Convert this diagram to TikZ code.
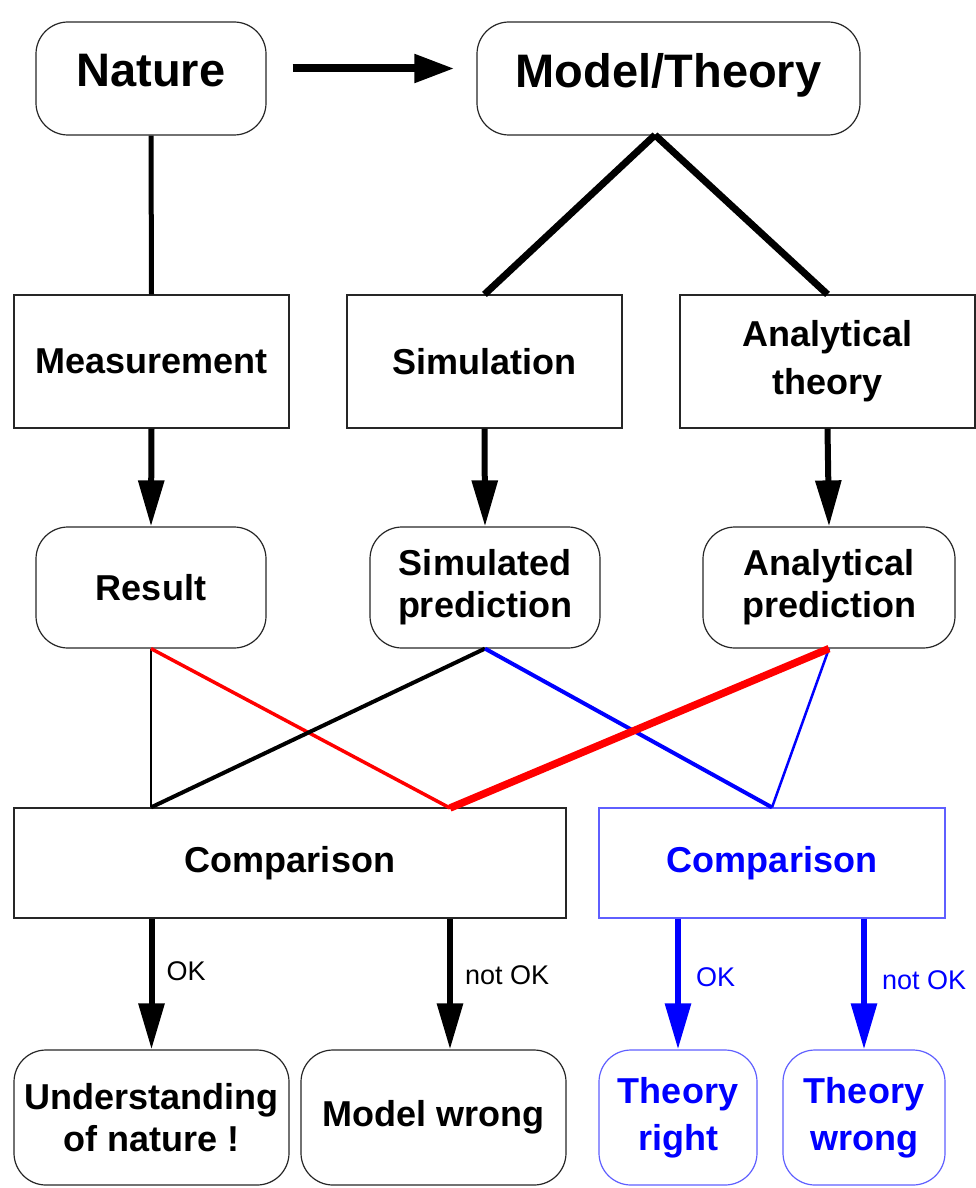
\documentclass[tikz,border=0pt]{standalone}
\usepackage{fontspec}
\setmainfont{Liberation Sans}
\usetikzlibrary{positioning, arrows.meta}
\definecolor{cmpblue}{RGB}{95,95,255}

\begin{document}
\begin{tikzpicture}[
            x=1pt, y=-1pt,
            every node/.style={font=\bfseries\fontsize{36}{42}\selectfont, align=center, inner sep=0pt},
            rbox/.style={draw=black!85, line width=1.2pt, rounded corners=32pt},
            sbox/.style={draw=black!85, line width=1.2pt},
            arr/.style={line width=6pt, -{Triangle[length=46pt, width=25pt]}},
            lbl/.style={font=\fontsize{27}{30}\selectfont, right=12pt}
        ]
        \useasboundingbox (0,0) rectangle (976,1188);

        % Top row
        \node[rbox, minimum width=230pt, minimum height=113pt, text depth=16pt, font=\bfseries\fontsize{47}{50}\selectfont] (nat) at (151,78.5) {Nature};
        \node[rbox, minimum width=383pt, minimum height=113pt, text depth=16pt, font=\bfseries\fontsize{47}{50}\selectfont] (mod) at (668.5,78.5) {Model/Theory};
        \draw[line width=8pt, -{Triangle[length=40pt, width=27pt]}] ([shift={(26,-10)}]nat.east) -- ([shift={(-22,-10)}]mod.west);

        % Methods
        \node[sbox, minimum width=275pt, minimum height=133pt] (mea) at (151.5,361.5) {Measurement};
        \node[sbox, minimum width=275pt, minimum height=133pt] (sim) at (484.5,361.5) {Simulation};
        \node[sbox, minimum width=295pt, minimum height=133pt] (ana) at (827.5,361.5) {Analytical\\[6pt]theory};

        \draw[line width=5pt] (nat.south) -- (mea.north);
        \coordinate (apex) at (655,135);
        \draw[line width=7pt] (apex) -- (sim.north);
        \draw[line width=7pt] (apex) -- (ana.north);

        % Predictions
        \node[rbox, minimum width=230pt, minimum height=121pt] (res) at (151,587.5) {Result};
        \node[rbox, minimum width=230pt, minimum height=121pt] (simp) at (485,587.5) {Simulated\\prediction};
        \node[rbox, minimum width=252pt, minimum height=121pt] (anap) at (829,587.5) {Analytical\\prediction};

        \draw[arr] (mea.south) -- (res.north);
        \draw[arr] (sim.south) -- (simp.north);
        \draw[arr] (ana.south) -- (anap.north);

        % Comparisons
        \node[sbox, minimum width=552pt, minimum height=110pt] (cmpA) at (290,863) {Comparison};
        \node[sbox, draw=cmpblue, text=blue, minimum width=346pt, minimum height=110pt] (cmpB) at (772,863) {Comparison};

        \coordinate (jA) at (res.south |- cmpA.north);
        \coordinate (jB) at (450,808);

        \draw[line width=2.5pt] (res.south) -- (jA);
        \draw[red, line width=3.5pt] (res.south) -- (jB);
        \draw[line width=4pt] (simp.south) -- (jA);
        \draw[blue, line width=4pt] (simp.south) -- (cmpB.north);
        \draw[blue, line width=2.5pt] (anap.south) -- (cmpB.north);
        \draw[red, line width=7.5pt] (anap.south) -- (jB);

        % Outcomes
        \node[rbox, minimum width=275pt, minimum height=135pt] (und) at (151.5,1117.5) {Understanding\\of nature !};
        \node[rbox, minimum width=265pt, minimum height=135pt] (mwr) at (433.5,1117.5) {Model wrong};
        \node[rbox, draw=cmpblue, text=blue, minimum width=158pt, minimum height=135pt] (thr) at (678,1117.5) {Theory\\[5pt]right};
        \node[rbox, draw=cmpblue, text=blue, minimum width=162pt, minimum height=135pt] (thw) at (864,1117.5) {Theory\\[5pt]wrong};

        \draw[arr] (und.north |- cmpA.south) -- node[lbl, pos=0.4] {OK} (und.north);
        \draw[arr] (jB |- cmpA.south) -- node[lbl, pos=0.43] {not OK} (jB |- mwr.north);
        \draw[arr, blue] (thr.north |- cmpB.south) -- node[lbl, pos=0.45, right=15pt] {OK} (thr.north);
        \draw[arr, blue] (thw.north |- cmpB.south) -- node[lbl, pos=0.47, right=15pt] {not OK} (thw.north);

    \end{tikzpicture}
\end{document}
